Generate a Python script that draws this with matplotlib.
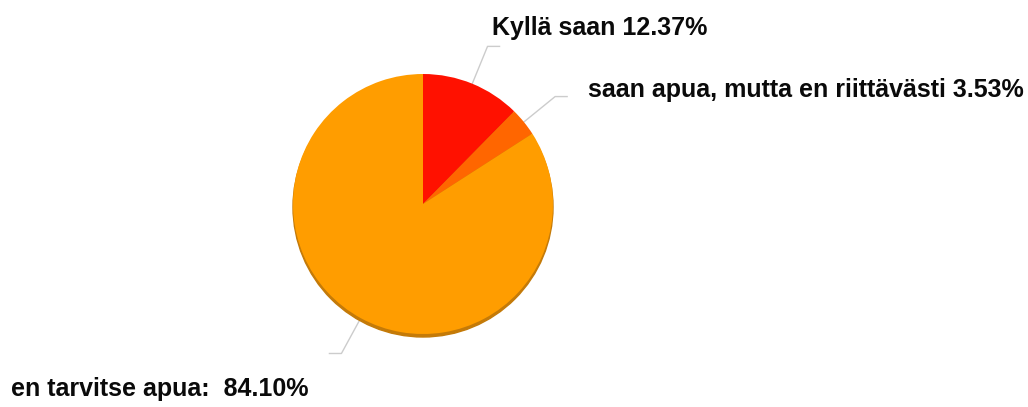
import numpy as np
import matplotlib.pyplot as plt
from matplotlib.patches import Circle

labels = ['Kyllä saan 12.37%', 'saan apua, mutta en riittävästi 3.53%', 'en tarvitse apua:  84.10%']
values = [12.37, 3.53, 84.10]
colors = ['#FF1100', '#FF6600', '#FF9D00']

W, H = 1028, 407
fig = plt.figure(figsize=(W / 100, H / 100), dpi=100)
ax = fig.add_axes([0, 0, 1, 1])

cx, cy, R = 423, H - 204, 130

# dark rim at the bottom (3d look)
ax.add_patch(Circle((cx, cy - 3), R, color='#C47A08', zorder=1))
ax.pie(values, colors=colors, startangle=90, counterclock=False, center=(cx, cy),
       radius=R, frame=True, wedgeprops=dict(linewidth=0, zorder=2))
ax.set_xlim(0, W)
ax.set_ylim(0, H)
ax.set_aspect('equal')
ax.axis('off')

# leader lines
cum = np.cumsum([0] + values[:-1])
mids = (cum + np.array(values) / 2) / 100 * 2 * np.pi
for m, side in zip(mids, [1, 1, -1]):
    x0, y0 = cx + R * np.sin(m), cy + R * np.cos(m)
    x1, y1 = cx + 1.31 * R * np.sin(m), cy + 1.31 * R * np.cos(m)
    ax.plot([x0, x1, x1 + side * 12], [y0, y1, y1], color='#CCCCCC', lw=1, zorder=0.5)

txt_pos = [(492, H - 28), (588, H - 90), (11, H - 389)]
for lab, (tx, ty) in zip(labels, txt_pos):
    ax.text(tx, ty, lab, ha='left', va='center', fontsize=18, fontweight='bold',
            family='Liberation Sans', color='#0A0A0A')

fig.savefig('out.png', dpi=100)
